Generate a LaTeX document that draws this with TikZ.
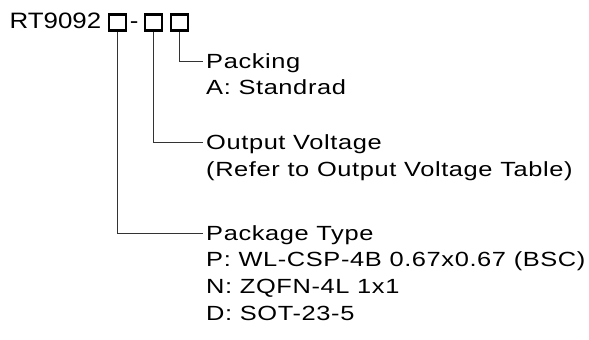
\documentclass[tikz,border=0pt]{standalone}
\usepackage{fontspec}
\setmainfont{Liberation Sans}
\newfontfamily\labelfont[FakeStretch=1.24,LetterSpace=3]{Liberation Sans}
\newfontfamily\partfont[FakeStretch=1.16]{Liberation Sans}
\begin{document}
\begin{tikzpicture}[x=1pt,y=-1pt,
  txt/.style={inner sep=0pt,font=\fontsize{20.5}{26.5}\labelfont},
  title/.style={txt,anchor=west,text height=14.7pt,text depth=0pt},
  body/.style={txt,anchor=base west},
  part/.style={inner sep=0pt,anchor=base west,font=\fontsize{22.3}{26}\partfont},
  digit/.style={draw=black,line width=2.3pt,minimum width=17pt,minimum height=16pt,inner sep=0pt},
  lead/.style={draw=black!80,line width=0.9pt,shorten >=3pt}]
\useasboundingbox (0,0) rectangle (589,340);
\node[part] (pn) at (9.5,28.3) {RT9092};
\node[digit] (b1) at (117.2,22.5) {};
\node[part,anchor=base] (dash) at (134.2,28.3) {-};
\node[digit] (b2) at (153.4,22.5) {};
\node[digit] (b3) at (179.2,22.5) {};
\node[title] (t3) at (206,61) {Packing};
\node[body] (d3) at ([yshift=-26.4pt]t3.base west) {A: Standrad};
\node[title] (t2) at (206,142.5) {Output Voltage};
\node[body] (d2) at ([yshift=-26.4pt]t2.base west) {(Refer to Output Voltage Table)};
\node[title] (t1) at (206,233) {Package Type};
\node[body] (d1a) at ([yshift=-26.6pt]t1.base west) {P: WL-CSP-4B 0.67x0.67 (BSC)};
\node[body] (d1b) at ([yshift=-26.6pt]d1a.base west) {N: ZQFN-4L 1x1};
\node[body] (d1c) at ([yshift=-26.6pt]d1b.base west) {D: SOT-23-5};
\draw[lead] (b3.south) |- (t3.west);
\draw[lead] (b2.south) |- (t2.west);
\draw[lead] (b1.south) |- (t1.west);
\end{tikzpicture}
\end{document}
